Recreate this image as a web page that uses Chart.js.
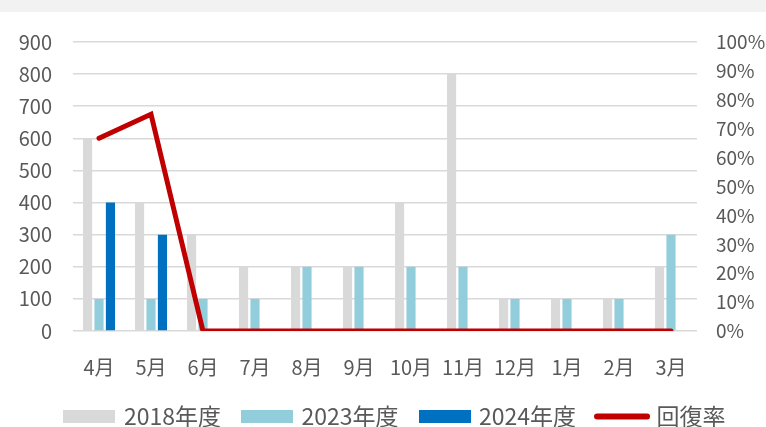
<!DOCTYPE html>
<html>
<head>
<meta charset="utf-8">
<script src="https://cdn.jsdelivr.net/npm/chart.js@4"></script>
<style>
html,body{margin:0;padding:0;background:#fff;}
#wrap{width:766px;height:427px;position:relative;}
</style>
</head>
<body>
<div id="wrap"><canvas id="c" width="766" height="427"></canvas></div>
<script>
const categories = ['4月','5月','6月','7月','8月','9月','10月','11月','12月','1月','2月','3月'];
const s2018 = [600,400,300,200,200,200,400,800,100,100,100,200];
const s2023 = [100,100,100,100,200,200,200,200,100,100,100,300];
const s2024 = [400,300,0,0,0,0,0,0,0,0,0,0];
const rate = [66.7,75,0,0,0,0,0,0,0,0,0,0];
const leftTicks = [0,100,200,300,400,500,600,700,800,900];
const rightTicks = [0,10,20,30,40,50,60,70,80,90,100];

const FONT = "'Noto Sans CJK JP','Noto Sans',sans-serif";
const TXT = '#595959';

function swatch(color, isLine){
  const cv = document.createElement('canvas');
  cv.width = isLine ? 56 : 52;
  cv.height = 13;
  const g = cv.getContext('2d');
  if (isLine){
    g.strokeStyle = color; g.lineWidth = 6; g.lineCap = 'round';
    g.beginPath(); g.moveTo(3,6.5); g.lineTo(53,6.5); g.stroke();
  } else {
    g.fillStyle = color; g.fillRect(0,0,52,13);
  }
  return cv;
}

const bandPlugin = {
  id:'band',
  afterLayout(chart){
    if (chart.legend){ chart.legend.left += 13; chart.legend.right += 13; }
  },
  beforeDraw(chart){
    const ctx = chart.ctx;
    ctx.save();
    ctx.fillStyle = '#ffffff';
    ctx.fillRect(0,0,chart.width,chart.height);
    ctx.fillStyle = '#f2f2f2';
    ctx.fillRect(0,0,chart.width,12);
    ctx.restore();
  }
};

new Chart(document.getElementById('c'), {
  type:'bar',
  data:{
    labels:categories,
    datasets:[
      {label:'2018年度', data:s2018, backgroundColor:'#d9d9d9', yAxisID:'y', order:1, categoryPercentage:0.66, barPercentage:0.8},
      {label:'2023年度', data:s2023, backgroundColor:'#92cddc', yAxisID:'y', order:1, categoryPercentage:0.66, barPercentage:0.8},
      {label:'2024年度', data:s2024, backgroundColor:'#0070c0', yAxisID:'y', order:1, categoryPercentage:0.66, barPercentage:0.8},
      {label:'回復率', type:'line', data:rate, yAxisID:'y1', order:0, borderColor:'#c00000', backgroundColor:'#c00000',
       borderWidth:5, pointRadius:0, tension:0, borderCapStyle:'round', borderJoinStyle:'miter', fill:false}
    ]
  },
  options:{
    responsive:false,
    animation:false,
    layout:{padding:{top:42,left:0,right:0,bottom:-11}},
    plugins:{
      tooltip:{enabled:false},
      legend:{
        position:'bottom',
        labels:{
          usePointStyle:true,
          pointStyleWidth:46,
          boxHeight:13,
          padding:23,
          color:TXT,
          font:{family:FONT,size:23},
          sort:(a,b)=>a.datasetIndex-b.datasetIndex,
          generateLabels(chart){
            return chart.data.datasets.map((ds,i)=>{
              const isLine = ds.type==='line';
              const c = isLine ? ds.borderColor : ds.backgroundColor;
              return {
                text:ds.label,
                fillStyle:c,
                strokeStyle:c,
                lineWidth:0,
                pointStyle:swatch(c,isLine),
                fontColor:TXT,
                hidden:false,
                datasetIndex:i
              };
            });
          }
        }
      }
    },
    scales:{
      x:{
        grid:{display:false},
        border:{display:false},
        ticks:{color:TXT,font:{family:FONT,size:20},padding:16,maxRotation:0},
        afterFit(s){s.height=51;}
      },
      y:{
        position:'left',
        min:0,max:900,
        afterBuildTicks(s){s.ticks=leftTicks.map(v=>({value:v}));},
        grid:{color:'#d9d9d9',lineWidth:1.5,drawTicks:false},
        border:{display:false},
        ticks:{color:TXT,font:{family:FONT,size:20},padding:21},
        afterFit(s){s.width=73;}
      },
      y1:{
        position:'right',
        min:0,max:100,
        afterBuildTicks(s){s.ticks=rightTicks.map(v=>({value:v}));},
        grid:{display:false,drawTicks:false},
        border:{display:false},
        ticks:{color:TXT,font:{family:FONT,size:19},padding:19,callback:v=>v+'%'},
        afterFit(s){s.width=69;}
      }
    }
  },
  plugins:[bandPlugin]
});
</script>
</body>
</html>
